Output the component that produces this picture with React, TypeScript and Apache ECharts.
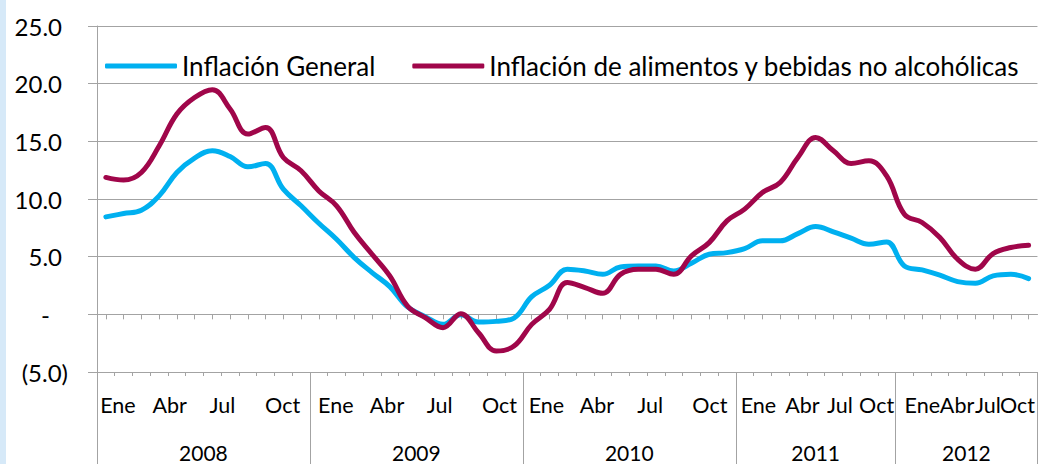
import React, { useEffect, useRef } from 'react';
import * as echarts from 'echarts';

// ---------- DATA ----------
const years = ['2008', '2009', '2010', '2011', '2012'];
const monthsPerYear = [12, 12, 12, 9, 8];

const monthLabels = [
  // 2008
  'Ene', '', '', 'Abr', '', '', 'Jul', '', '', 'Oct', '', '',
  // 2009
  'Ene', '', '', 'Abr', '', '', 'Jul', '', '', 'Oct', '', '',
  // 2010
  'Ene', '', '', 'Abr', '', '', 'Jul', '', '', 'Oct', '', '',
  // 2011
  'Ene', '', '', 'Abr', '', 'Jul', '', 'Oct', '',
  // 2012
  'Ene', '', 'Abr', '', 'Jul', '', 'Oct', '',
];

const inflacionGeneral = [
  8.45, 8.74, 9.03, 10.27, 12.3, 13.55, 14.18, 13.69, 12.79, 13.08, 10.85, 9.41,
  7.9, 6.51, 4.92, 3.62, 2.4, 0.64, -0.2, -0.87, -0.03, -0.67, -0.61, -0.32,
  1.53, 2.52, 3.91, 3.76, 3.47, 4.11, 4.2, 4.2, 3.76, 4.43, 5.21, 5.35,
  5.7, 6.37, 6.37, 7.0, 7.61, 7.15, 6.6, 6.08, 6.28,
  4.2, 3.85, 3.39, 2.84, 2.69, 3.33, 3.47, 3.1,
];

const inflacionAlimentos = [
  11.87, 11.64, 12.3, 14.6, 17.37, 18.8, 19.48, 17.8, 15.63, 16.2, 13.6, 12.45,
  10.7, 9.41, 7.09, 5.21, 3.33, 0.72, -0.29, -1.16, 0.06, -1.59, -3.18, -2.75,
  -0.87, 0.43, 2.75, 2.32, 1.82, 3.47, 3.91, 3.91, 3.47, 5.07, 6.22, 8.1,
  9.12, 10.56, 11.43, 13.6, 15.34, 14.18, 13.08, 13.31, 12.0,
  8.68, 7.96, 6.66, 4.78, 3.91, 5.27, 5.79, 5.99,
];

const seriesNames = ['Inflación General', 'Inflación de alimentos y bebidas no alcohólicas'];

// ---------- LAYOUT / STYLE ----------
const W = 1038;
const H = 464;
const GRID = { left: 97, right: -7, top: 26, bottom: 92 };
const FONT = 'Lato, "Noto Sans", sans-serif';
const GRAY = '#a3a3a3';
const BLUE = '#00b0f0';
const MAROON = '#a0064a';
// horizontal nudges (px) of month labels, to follow the original placement
const monthNudge: Record<number, number> = {
  0: 12, 3: 10.5, 6: 10, 9: 17,
  12: 17, 15: 15, 18: 14.4, 21: 21,
  24: 14.7, 27: 12, 30: 12, 33: 18.4,
  36: 13.8, 39: 4.6, 41: 6.4, 43: 7.7,
  45: 17.9, 47: 17.2, 49: 12.5, 51: 6.7,
};

export default function App() {
  const ref = useRef<HTMLDivElement>(null);

  useEffect(() => {
    document.body.style.margin = '0';
    const chart = echarts.init(ref.current!, null, { renderer: 'svg' });

    const categories: string[] = [];
    const yearStarts: number[] = [];
    years.forEach((y, yi) => {
      yearStarts.push(categories.length);
      for (let m = 0; m < monthsPerYear[yi]; m++) categories.push(`${y}-${m + 1}`);
    });
    const catW = (W - GRID.left - GRID.right) / categories.length;

    const monthRich: Record<string, any> = {};
    monthLabels.forEach((l, i) => {
      if (!l) return;
      const s = monthNudge[i] ?? 0;
      monthRich['m' + i] = {
        fontFamily: FONT, fontSize: 21.5, color: '#000',
        padding: s >= 0 ? [0, 0, 0, 2 * s] : [0, -2 * s, 0, 0],
      };
    });

    const yearAt: Record<number, string> = {};
    const yearRich: Record<string, any> = {};
    years.forEach((y, yi) => {
      const n = monthsPerYear[yi];
      const idx = yearStarts[yi] + Math.floor(n / 2);
      const s = n % 2 === 0 ? -catW / 2 : 0;
      yearAt[idx] = y;
      yearRich['y' + idx] = {
        fontFamily: FONT, fontSize: 21, color: '#000',
        padding: s >= 0 ? [0, 0, 0, 2 * s] : [0, -2 * s, 0, 0],
      };
    });

    const baseX = {
      type: 'category' as const,
      data: categories,
      boundaryGap: true,
      gridIndex: 0,
    };

    const option: any = {
      animation: false,
      backgroundColor: '#ffffff',
      textStyle: { fontFamily: FONT },
      grid: { ...GRID, containLabel: false },
      graphic: [
        { type: 'rect', left: 0, top: 0, shape: { width: 6, height: H }, style: { fill: '#d6e9f8' }, silent: true },
      ],
      legend: {
        left: 105,
        top: 52,
        padding: 0,
        icon: 'roundRect',
        itemWidth: 72,
        itemHeight: 5,
        itemGap: 37,
        textStyle: { fontFamily: FONT, fontSize: 26, color: '#000', lineHeight: 28 },
        data: seriesNames,
      },
      xAxis: [
        {
          ...baseX,
          axisLine: { show: true, onZero: true, lineStyle: { color: GRAY, width: 1 } },
          axisTick: { show: true, alignWithLabel: true, interval: 0, length: 5, lineStyle: { color: GRAY } },
          axisLabel: { show: false },
          splitLine: { show: false },
        },
        {
          ...baseX,
          position: 'bottom',
          axisLine: { show: true, onZero: false, lineStyle: { color: GRAY, width: 1 } },
          axisTick: { show: true, interval: 0, length: 4, lineStyle: { color: GRAY } },
          axisLabel: {
            show: true,
            interval: 0,
            margin: 22,
            formatter: (v: string) => {
              const i = categories.indexOf(v);
              const l = monthLabels[i];
              return l ? `{m${i}|${l}}` : '';
            },
            rich: monthRich,
          },
          splitLine: { show: false },
        },
        {
          ...baseX,
          position: 'bottom',
          axisLine: { show: false, onZero: false },
          axisTick: {
            show: true,
            interval: (i: number) => yearStarts.includes(i),
            length: 92,
            lineStyle: { color: GRAY },
          },
          axisLabel: {
            show: true,
            interval: 0,
            margin: 70,
            formatter: (v: string) => {
              const i = categories.indexOf(v);
              return yearAt[i] ? `{y${i}|${yearAt[i]}}` : '';
            },
            rich: yearRich,
          },
          splitLine: { show: false },
        },
      ],
      yAxis: {
        type: 'value',
        min: -5,
        max: 25,
        interval: 5,
        axisLine: { show: true, lineStyle: { color: GRAY, width: 1 } },
        axisTick: { show: true, length: 9, lineStyle: { color: GRAY } },
        splitLine: { show: true, lineStyle: { color: GRAY, width: 1 } },
        axisLabel: {
          margin: 29,
          formatter: (v: number) => {
            if (v === 0) return '{z|-}';
            if (v < 0) return `{n|(${Math.abs(v).toFixed(1)})}`;
            return `{p|${v.toFixed(1)}}`;
          },
          rich: {
            p: { fontFamily: FONT, fontSize: 24, color: '#000', padding: [0, 6, 0, 0] },
            n: { fontFamily: FONT, fontSize: 24, color: '#000' },
            z: { fontFamily: FONT, fontSize: 24, color: '#000', padding: [0, 18, 0, 0] },
          },
        },
      },
      series: [
        {
          name: seriesNames[0],
          type: 'line',
          xAxisIndex: 0,
          yAxisIndex: 0,
          data: inflacionGeneral,
          smooth: 0.4,
          symbol: 'none',
          lineStyle: { color: BLUE, width: 5, cap: 'round', join: 'round' },
          itemStyle: { color: BLUE },
        },
        {
          name: seriesNames[1],
          type: 'line',
          xAxisIndex: 0,
          yAxisIndex: 0,
          data: inflacionAlimentos,
          smooth: 0.4,
          symbol: 'none',
          lineStyle: { color: MAROON, width: 5, cap: 'round', join: 'round' },
          itemStyle: { color: MAROON },
        },
      ],
    };

    chart.setOption(option);
    return () => chart.dispose();
  }, []);

  return <div ref={ref} style={{ width: W, height: H, position: 'absolute', left: 0, top: 0 }} />;
}
